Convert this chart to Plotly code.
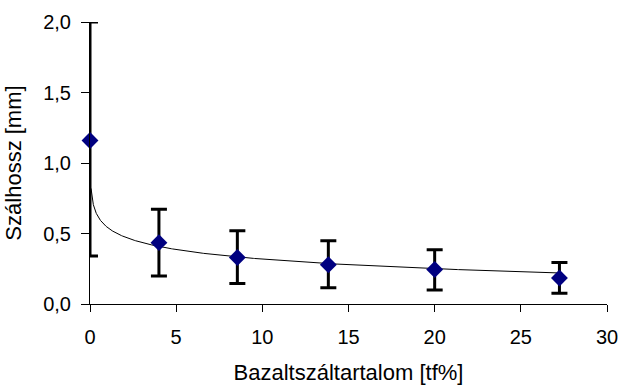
import numpy as np
import plotly.graph_objects as go

# Data
basalt_content = [0.0, 4.0, 8.55, 13.83, 20.0, 27.24]          # tf%
fiber_length = [1.16, 0.435, 0.33, 0.278, 0.245, 0.184]        # mm
err_plus = [0.84, 0.237, 0.19, 0.17, 0.14, 0.11]
err_minus = [0.82, 0.237, 0.185, 0.163, 0.145, 0.107]

# Logarithmic trendline coefficients (y = a + b*ln(x))
trend_a = 0.544
trend_b = -0.098

x_tr = np.linspace(0.06, max(basalt_content), 600)
x_tr = np.concatenate([np.geomspace(0.06, 1.0, 200), x_tr[x_tr > 1.0]])
y_tr = trend_a + trend_b * np.log(x_tr)

fig = go.Figure()
fig.add_trace(go.Scatter(
    x=x_tr, y=y_tr, mode="lines",
    line=dict(color="black", width=1),
    hoverinfo="skip", showlegend=False,
))
fig.add_trace(go.Scatter(
    x=basalt_content, y=fiber_length, mode="markers",
    marker=dict(symbol="diamond", size=13, color="#000080"),
    error_y=dict(type="data", symmetric=False, array=err_plus,
                 arrayminus=err_minus, color="black", thickness=3, width=8),
    cliponaxis=False, showlegend=False,
))

font_family = "Liberation Sans, Arial, sans-serif"
fig.update_layout(
    width=621, height=387,
    margin=dict(l=90, r=14, t=22, b=83),
    paper_bgcolor="white", plot_bgcolor="white",
    separators=", ",
    font=dict(family=font_family, size=20, color="black"),
    xaxis=dict(
        range=[0, 30], tickvals=[0, 5, 10, 15, 20, 25, 30],
        showgrid=False, zeroline=False, showline=True,
        linecolor="black", linewidth=1, automargin=False,
        ticks="outside", ticklen=7, tickcolor="black",
        tickfont=dict(size=20), ticklabelstandoff=8,
        title=dict(text="Bazaltszáltartalom [tf%]", font=dict(size=22), standoff=17),
    ),
    yaxis=dict(
        range=[0, 2.0], tickvals=[0, 0.5, 1.0, 1.5, 2.0], tickformat=".1f",
        showgrid=False, zeroline=False, showline=True,
        linecolor="black", linewidth=1, automargin=False,
        ticks="outside", ticklen=8, tickcolor="black",
        tickfont=dict(size=20), ticklabelstandoff=6,
        title=dict(text="Szálhossz [mm]", font=dict(size=22), standoff=15),
    ),
)

fig.write_html("out.html", config={"displayModeBar": False},
               post_script="document.body.style.margin='0';")
